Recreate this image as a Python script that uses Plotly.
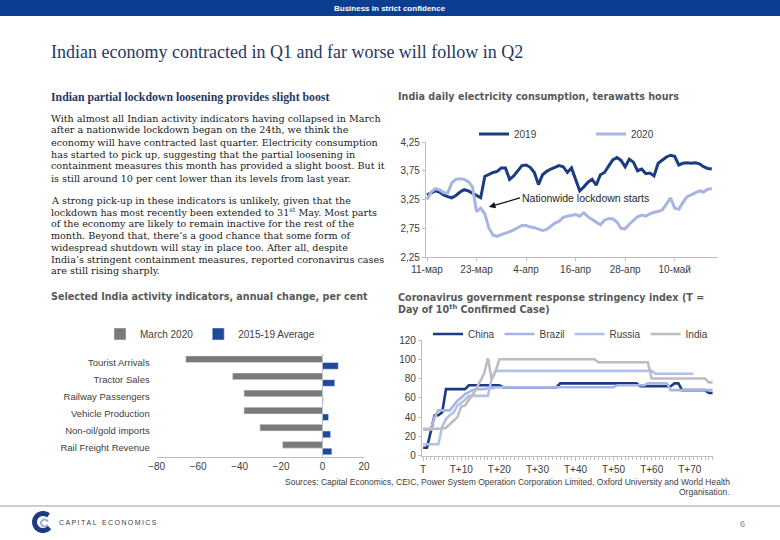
import math
import pandas as pd
import plotly.graph_objects as go

# ---------------- data ----------------
elec_start = "2020-03-11"
elec_2019 = [3.33, 3.37, 3.40, 3.38, 3.33, 3.30, 3.28, 3.32, 3.38, 3.42,
             3.40, 3.36, 3.32, 3.28, 3.65, 3.69, 3.72, 3.74, 3.80, 3.80,
             3.60, 3.66, 3.75, 3.84, 3.85, 3.81, 3.72, 3.51, 3.68, 3.74,
             3.78, 3.81, 3.84, 3.82, 3.72, 3.80, 3.58, 3.40, 3.47, 3.55,
             3.60, 3.50, 3.68, 3.72, 3.83, 3.94, 3.98, 3.93, 3.82, 3.95,
             3.90, 3.75, 3.78, 3.70, 3.71, 3.66, 3.88, 3.94, 3.99, 4.02,
             4.00, 3.85, 3.88, 3.89, 3.88, 3.89, 3.87, 3.82, 3.79, 3.78]
elec_2020 = [3.25, 3.38, 3.44, 3.42, 3.37, 3.36, 3.54, 3.60, 3.61, 3.60,
             3.56, 3.47, 3.04, 3.10, 3.00, 2.75, 2.63, 2.61, 2.64, 2.66,
             2.69, 2.72, 2.76, 2.80, 2.80, 2.77, 2.76, 2.73, 2.71, 2.73,
             2.79, 2.84, 2.87, 2.94, 2.96, 2.97, 2.99, 2.96, 3.02, 2.95,
             2.90, 2.86, 2.81, 2.89, 2.92, 2.91, 2.86, 2.75, 2.74, 2.82,
             2.88, 2.95, 2.98, 2.96, 3.00, 3.03, 3.04, 3.07, 3.17, 3.28,
             3.10, 3.08, 3.20, 3.30, 3.33, 3.36, 3.40, 3.38, 3.43, 3.44]
elec_tickvals = ["2020-03-11", "2020-03-23", "2020-04-04", "2020-04-16", "2020-04-28", "2020-05-10"]
elec_ticktext = ["11-мар", "23-мар", "4-апр", "16-апр", "28-апр", "10-май"]
lockdown_date = "2020-03-26"
lockdown_value = 3.12

bar_categories = ["Tourist Arrivals", "Tractor Sales", "Railway Passengers",
                  "Vehicle Production", "Non-oil/gold imports", "Rail Freight Revenue"]
bar_march2020 = [-66, -43.4, -37.9, -37.9, -30.2, -19.3]
bar_avg1519 = [7.6, 5.9, 0.3, 2.9, 3.9, 4.5]

china = [8.3, 8.3, 25, 42, 42, 45, 69, 69, 69, 69, 69, 69,
         73, 73, 73, 73, 73, 73, 73, 73, 73,
         71, 71, 71, 71, 71, 71, 71, 71, 71, 71, 71, 71, 71, 71, 71,
         75, 75, 75, 75, 75, 75, 75, 75, 75, 75, 75, 75, 75, 75, 75, 75, 75, 75, 75, 75, 75,
         72, 72, 72, 72, 72, 72, 72, 72,
         72, 75, 75,
         68, 68, 68, 68, 68, 68, 68,
         65, 65]
brazil = [27, 27, 27, 40, 47, 47, 47, 47, 52, 57, 60, 64, 66, 68, 69, 69, 69, 70, 70, 71, 71,
          71, 71, 71, 71, 71, 71, 71, 71, 71, 71, 71, 71, 71, 71, 71,
          71, 71, 71, 71, 71, 71, 71, 71, 71, 71, 71, 71, 71, 71, 71,
          73, 73, 73, 73, 73, 73, 73, 73,
          75, 75, 75, 75, 75, 75,
          68, 68, 68, 68, 68, 68, 68, 68, 68, 68, 68, 68]
russia = [11.8, 11.8, 11.8, 11.8, 11.8, 30, 38, 42, 45, 52, 55, 58,
          62, 62, 62, 62, 62, 62, 80, 88,
          88, 88, 88, 88, 88, 88, 88, 88, 88, 88, 88, 88, 88, 88, 88, 88, 88, 88, 88, 88, 88,
          88, 88, 88, 88, 88, 88, 88, 88, 88, 88, 88, 88, 88, 88, 88, 88, 88, 88, 88, 88,
          85, 85, 85, 85, 85, 85, 85, 85, 85, 85, 85]
india = [28, 28, 28, 28, 28, 28,
         29, 33, 37, 40, 51, 52, 58, 63, 70, 77, 85, 101, 79, 87,
         100,
         100, 100, 100, 100, 100, 100, 100, 100, 100, 100, 100, 100, 100, 100, 100, 100, 100, 100, 100, 100, 100, 100, 100, 100, 100,
         97, 97, 97, 97, 97, 97, 97, 97, 97, 97, 97, 97, 97, 97,
         80, 80, 80, 80, 80, 80, 80, 80, 80, 80, 80, 80, 80, 80, 80,
         76, 76]
string_tickvals = [0, 10, 20, 30, 40, 50, 60, 70]
string_ticktext = ["T", "T+10", "T+20", "T+30", "T+40", "T+50", "T+60", "T+70"]

# ---------------- styling ----------------
W, H = 780, 540
NAVY = "#1B3C83"
LIGHT = "#A7B5E4"
LIGHT2 = "#B3C0EA"
GREY_LINE = "#BDBDBD"
BAR_GREY = "#7A7A7A"
BAR_BLUE = "#1F4A9C"
AXIS = "#BFBFBF"
TICK = "#404040"
HEAD = "#595959"
TITLE = "#1F3864"
SANS = "Liberation Sans, Arial, sans-serif"
HEADF = "DejaVu Sans, Verdana, sans-serif"
SERIF = "Liberation Serif, Times New Roman, serif"
BODYF = "DejaVu Serif, serif"


def px(x):
    return x / W


def py(y):
    return 1 - y / H


elec_dates = pd.date_range(elec_start, periods=len(elec_2019), freq="D")

fig = go.Figure()

# electricity chart
fig.add_trace(go.Scatter(x=elec_dates, y=elec_2019, name="2019", mode="lines",
                         line=dict(color=NAVY, width=3), xaxis="x", yaxis="y", legend="legend"))
fig.add_trace(go.Scatter(x=elec_dates, y=elec_2020, name="2020", mode="lines",
                         line=dict(color=LIGHT, width=3), xaxis="x", yaxis="y", legend="legend"))

# bar chart
fig.add_trace(go.Bar(y=bar_categories, x=bar_march2020, name="March 2020", orientation="h",
                     marker=dict(color=BAR_GREY), xaxis="x2", yaxis="y2", legend="legend2"))
fig.add_trace(go.Bar(y=bar_categories, x=bar_avg1519, name="2015-19 Average", orientation="h",
                     marker=dict(color=BAR_BLUE), xaxis="x2", yaxis="y2", legend="legend2"))

# stringency chart
for name, vals, col in [("China", china, NAVY), ("Brazil", brazil, LIGHT),
                        ("Russia", russia, LIGHT2), ("India", india, GREY_LINE)]:
    fig.add_trace(go.Scatter(x=list(range(len(vals))), y=vals, name=name, mode="lines",
                             line=dict(color=col, width=2.6), xaxis="x3", yaxis="y3",
                             legend="legend3"))

tickfont = dict(family=SANS, size=10, color=TICK)

fig.update_layout(
    width=W, height=H, autosize=False,
    margin=dict(l=0, r=0, t=0, b=0, autoexpand=False),
    paper_bgcolor="white", plot_bgcolor="white",
    separators=", ",
    barmode="group", bargap=0.22, bargroupgap=0,
    xaxis=dict(domain=[px(426), px(718)], anchor="y", type="date",
               range=["2020-03-10 18:00", "2020-05-20 12:00"],
               tickvals=elec_tickvals, ticktext=elec_ticktext,
               showline=True, linecolor=AXIS, linewidth=1.2, showgrid=False, zeroline=False,
               ticks="outside", ticklen=3, tickcolor=AXIS, tickfont=tickfont),
    yaxis=dict(domain=[py(257), py(142)], anchor="x", range=[2.25, 4.25], tick0=2.25, dtick=0.5,
               tickformat=".2f", showline=True, linecolor=AXIS, linewidth=1.2,
               showgrid=False, zeroline=False, ticks="outside", ticklen=3, tickcolor=AXIS,
               tickfont=tickfont),
    xaxis2=dict(domain=[px(156.7), px(364)], anchor="y2", range=[-80, 20], dtick=20,
                showline=True, linecolor=AXIS, linewidth=1.2, showgrid=False,
                zeroline=True, zerolinecolor=AXIS, zerolinewidth=1.2,
                tickfont=tickfont),
    yaxis2=dict(domain=[py(456.7), py(354)], anchor="x2", autorange="reversed", showline=False,
                showgrid=False, zeroline=False, tickfont=dict(family=SANS, size=9.5, color=TICK),
                ticklabelstandoff=6),
    xaxis3=dict(domain=[px(422), px(713)], anchor="y3", range=[-0.3, 76.1],
                tickvals=string_tickvals, ticktext=string_ticktext,
                showline=True, linecolor=AXIS, linewidth=1.2, showgrid=False, zeroline=False,
                ticks="outside", ticklen=4, tickcolor=AXIS,
                minor=dict(dtick=1, tick0=0, ticks="outside", ticklen=3, tickcolor=AXIS),
                tickfont=tickfont),
    yaxis3=dict(domain=[py(455.7), py(340)], anchor="x3", range=[0, 120], dtick=20,
                showline=True, linecolor=AXIS, linewidth=1.2, showgrid=False, zeroline=False,
                ticks="outside", ticklen=3, tickcolor=AXIS, tickfont=tickfont),
    legend=dict(orientation="h", x=px(474), y=py(134), xanchor="left", yanchor="middle",
                font=dict(family=SANS, size=10, color=TICK), entrywidth=72,
                itemwidth=30, bgcolor="rgba(0,0,0,0)", tracegroupgap=0),
    legend2=dict(orientation="h", x=px(100), y=py(334), xanchor="left", yanchor="middle",
                 font=dict(family=SANS, size=10, color=TICK), itemwidth=30,
                 bgcolor="rgba(0,0,0,0)"),
    legend3=dict(orientation="h", x=px(428), y=py(334), xanchor="left", yanchor="middle",
                 font=dict(family=SANS, size=10, color=TICK), itemwidth=30,
                 bgcolor="rgba(0,0,0,0)"),
    showlegend=True,
)

# lockdown annotation (label with arrow) on electricity chart
fig.add_annotation(x=lockdown_date, y=lockdown_value, xref="x", yref="y",
                   text="Nationwide lockdown starts", showarrow=True, ax=31, ay=-9,
                   xanchor="left", yanchor="middle", arrowhead=2, arrowsize=1, arrowwidth=1.3,
                   arrowcolor="#111111", font=dict(family=SANS, size=10.5, color="#262626"))

# slide decoration
fig.add_shape(type="rect", xref="paper", yref="paper", x0=0, x1=1, y0=py(16), y1=1,
              fillcolor="#0B3D91", line=dict(width=0), layer="below")
fig.add_shape(type="line", xref="paper", yref="paper", x0=0, x1=1, y0=py(506), y1=py(506),
              line=dict(color="#BFBFBF", width=1.5))


def arc_path(cx, cy, r, a0, a1, n=24):
    pts = []
    for k in range(n + 1):
        a = math.radians(a0 + (a1 - a0) * k / n)
        pts.append((px(cx + r * math.cos(a)), py(cy - r * math.sin(a))))
    return "M " + " L ".join("%.5f,%.5f" % p for p in pts)


# company logo (decorative)
fig.add_shape(type="path", xref="paper", yref="paper", path=arc_path(43, 522, 8.5, 50, 320),
              line=dict(color="#1B3C83", width=5))
fig.add_shape(type="path", xref="paper", yref="paper", path=arc_path(44.5, 523, 3.5, 20, 330),
              line=dict(color="#9DB0DA", width=2))


def txt(x, y, s, size, color, family=SANS, anchor="left", bold=False):
    fig.add_annotation(x=x, y=y, xref="paper", yref="paper", text=("<b>%s</b>" % s) if bold else s,
                       showarrow=False, xanchor=anchor, yanchor="middle",
                       font=dict(family=family, size=size, color=color))


txt(0.5, py(8), "Business in strict confidence", 8, "white", anchor="center", bold=True)
txt(px(49), py(52), "Indian economy contracted in Q1 and far worse will follow in Q2", 18, TITLE, SERIF)
txt(px(49), py(97), "Indian partial lockdown loosening provides slight boost", 11.8, TITLE, SERIF, bold=True)
txt(px(396), py(97), "India daily electricity consumption, terawatts hours", 9.6, HEAD, HEADF, bold=True)
txt(px(49), py(296), "Selected India activity indicators, annual change, per cent", 9.6, HEAD, HEADF, bold=True)
txt(px(396), py(297), "Coronavirus government response stringency index (T =", 9.6, HEAD, HEADF, bold=True)
txt(px(396), py(309), "Day of 10<sup>th</sup> Confirmed Case)", 9.6, HEAD, HEADF, bold=True)

para1 = ["With almost all Indian activity indicators having collapsed in March",
         "after a nationwide lockdown began on the 24th, we think the",
         "economy will have contracted last quarter. Electricity consumption",
         "has started to pick up, suggesting that the partial loosening in",
         "containment measures this month has provided a slight boost. But it",
         "is still around 10 per cent lower than its levels from last year."]
para2 = ["A strong pick-up in these indicators is unlikely, given that the",
         "lockdown has most recently been extended to 31<sup>st</sup> May. Most parts",
         "of the economy are likely to remain inactive for the rest of the",
         "month. Beyond that, there’s a good chance that some form of",
         "widespread shutdown will stay in place too. After all, despite",
         "India’s stringent containment measures, reported coronavirus cases",
         "are still rising sharply."]
for i, line in enumerate(para1):
    txt(px(49), py(118 + 12 * i), line, 9.6, "#1a1a1a", BODYF)
for i, line in enumerate(para2):
    txt(px(49), py(200 + 11.83 * i), line, 9.6, "#1a1a1a", BODYF)

txt(px(732), py(482), "Sources: Capital Economics, CEIC, Power System Operation Corporation Limited, Oxford University and World Health",
    8.5, TICK, anchor="right")
txt(px(732), py(492), "Organisation.", 8.5, TICK, anchor="right")
txt(px(742), py(524), "6", 9, "#7F7F7F", anchor="center")
txt(px(57), py(522), "C\u2009A\u2009P\u2009I\u2009T\u2009A\u2009L\u2002 E\u2009C\u2009O\u2009N\u2009O\u2009M\u2009I\u2009C\u2009S",
    7, "#404040")

fig.write_html("out.html", config={"displayModeBar": False},
               post_script="document.body.style.margin='0';document.body.style.overflow='hidden';")
